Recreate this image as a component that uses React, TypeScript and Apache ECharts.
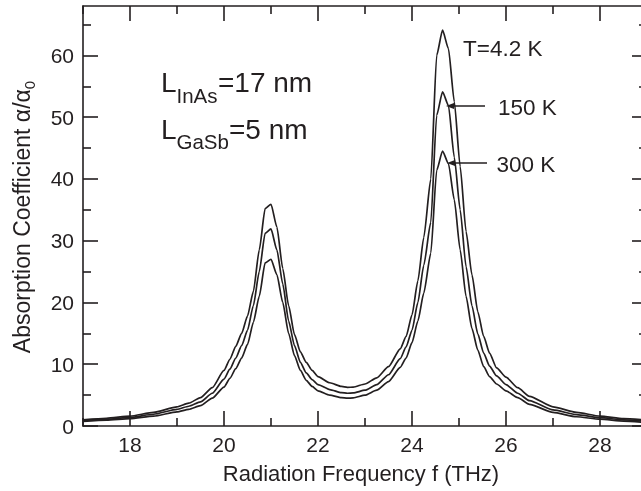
import React, { useEffect, useRef } from "react";
import * as echarts from "echarts";

// Radiation frequency (THz)
const freqTHz = [
  17.0, 17.5, 18.0, 18.5, 19.0, 19.25, 19.5, 19.75, 20.0, 20.125, 20.25, 20.375,
  20.5, 20.625, 20.75, 20.875, 21.0, 21.125, 21.25, 21.375, 21.5, 21.625, 21.75,
  21.875, 22.0, 22.25, 22.5, 22.625, 22.75, 23.0, 23.25, 23.5, 23.75, 23.875,
  24.0, 24.125, 24.25, 24.4, 24.525, 24.65, 24.775, 24.9, 25.025, 25.15, 25.275,
  25.4, 25.525, 25.65, 25.8, 26.0, 26.25, 26.5, 27.0, 27.5, 28.0, 28.5, 29.0,
];

// Absorption coefficient alpha/alpha0, T = 4.2 K
const alphaT4K = [
  1.0, 1.25, 1.6, 2.2, 3.1, 3.7, 4.6, 6.2, 9.0, 10.8, 12.9, 15.0,
  17.8, 21.8, 28.5, 35.2, 35.9, 32.2, 25.5, 19.5, 14.8, 12.0, 10.3,
  9.0, 8.0, 7.0, 6.4, 6.25, 6.3, 6.8, 7.8, 9.6, 12.5, 14.5,
  18.0, 23.5, 30.5, 40.0, 60.0, 64.1, 61.1, 52.5, 42.0, 31.5, 24.5,
  18.5, 14.5, 11.8, 9.4, 7.9, 6.2, 4.8, 3.1, 2.2, 1.6, 1.2, 0.95,
];

// T = 150 K
const alphaT150K = [
  0.88, 1.1, 1.4, 1.9, 2.7, 3.2, 3.9, 5.3, 7.6, 9.2, 11.0, 13.0,
  15.5, 19.5, 25.0, 31.2, 31.9, 28.5, 23.0, 17.0, 13.0, 10.3, 8.6,
  7.5, 6.7, 5.9, 5.4, 5.3, 5.35, 5.8, 6.7, 8.3, 10.9, 12.8,
  15.5, 20.0, 26.0, 33.0, 50.3, 54.1, 51.9, 43.5, 35.0, 25.8, 19.5,
  14.9, 11.8, 9.7, 8.1, 6.7, 5.3, 4.1, 2.6, 1.85, 1.35, 1.0, 0.75,
];

// T = 300 K
const alphaT300K = [
  0.75, 0.95, 1.2, 1.6, 2.3, 2.7, 3.3, 4.5, 6.3, 7.7, 9.3, 11.0,
  13.2, 16.8, 21.0, 26.4, 27.0, 24.5, 20.0, 15.0, 11.4, 9.0, 7.4,
  6.4, 5.7, 5.0, 4.6, 4.5, 4.55, 5.0, 5.8, 7.2, 9.5, 11.0,
  13.5, 17.0, 21.5, 28.0, 41.4, 44.5, 42.5, 36.6, 28.5, 21.0, 15.8,
  12.3, 9.6, 8.0, 6.8, 5.7, 4.6, 3.5, 2.2, 1.5, 1.1, 0.8, 0.55,
];

const xMajorTicks = [18, 20, 22, 24, 26, 28];
const xMinorTicks = [17, 19, 21, 23, 25, 27];
const yMajorTicks = [0, 10, 20, 30, 40, 50, 60];
const yMinorTicks = [5, 15, 25, 35, 45, 55, 65];

const seriesNames = ["T=4.2 K", "150 K", "300 K"];

export default function App() {
  const ref = useRef<HTMLDivElement>(null);

  useEffect(() => {
    const chart = echarts.init(ref.current!, null, { renderer: "svg" });
    const ink = "#231f20";
    const font = "'Liberation Sans', Arial, Helvetica, sans-serif";
    const lw = 1.6;

    const mkX = (pos: string, ticks: number[], len: number, labels: boolean, showLine: boolean) => ({
      type: "value",
      min: 17,
      max: 29,
      position: pos,
      axisLine: { show: showLine, onZero: false, lineStyle: { color: ink, width: lw } },
      axisTick: { show: true, inside: true, length: len, customValues: ticks, lineStyle: { color: ink, width: lw } },
      axisLabel: labels
        ? { show: true, customValues: ticks, margin: 8, color: ink, fontSize: 21, fontFamily: font }
        : { show: false },
      splitLine: { show: false },
    });
    const mkY = (pos: string, ticks: number[], len: number, labels: boolean, showLine: boolean) => ({
      type: "value",
      min: 0,
      max: 68,
      position: pos,
      axisLine: { show: showLine, onZero: false, lineStyle: { color: ink, width: lw } },
      axisTick: { show: true, inside: true, length: len, customValues: ticks, lineStyle: { color: ink, width: lw } },
      axisLabel: labels
        ? { show: true, customValues: ticks, margin: 9, color: ink, fontSize: 21, fontFamily: font }
        : { show: false },
      splitLine: { show: false },
    });

    const seriesData = [alphaT4K, alphaT150K, alphaT300K];

    const txt = (text: string, x: number, y: number, size: number, align = "left") => ({
      type: "text",
      x,
      y,
      silent: true,
      style: { text, fill: ink, fontSize: size, fontFamily: font, align, verticalAlign: "middle" },
    });

    chart.setOption({
      animation: false,
      grid: { left: 83, right: -6, top: 6, bottom: 65, outerBoundsMode: "none" },
      xAxis: [
        mkX("bottom", xMajorTicks, 15, true, true),
        mkX("bottom", xMinorTicks, 8, false, false),
        mkX("top", xMajorTicks, 15, false, true),
        mkX("top", xMinorTicks, 8, false, false),
      ],
      yAxis: [
        mkY("left", yMajorTicks, 15, true, true),
        mkY("left", yMinorTicks, 8, false, false),
        mkY("right", yMajorTicks, 15, false, true),
        mkY("right", yMinorTicks, 8, false, false),
      ],
      series: seriesData.map((vals, i) => ({
        name: seriesNames[i],
        type: "line",
        xAxisIndex: 0,
        yAxisIndex: 0,
        showSymbol: false,
        symbol: "none",
        silent: true,
        smooth: 0.2,
        smoothMonotone: "x",
        lineStyle: { color: ink, width: 1.7 },
        data: freqTHz.map((f, k) => [f, vals[k]]),
      })),
      graphic: [
        txt("Radiation Frequency f (THz)", 361, 473, 22, "center"),
        {
          type: "text",
          x: 22,
          y: 217,
          rotation: Math.PI / 2,
          silent: true,
          style: {
            text: "{m|Absorption Coefficient α/α}{s|0}",
            fill: ink,
            fontFamily: font,
            align: "center",
            verticalAlign: "middle",
            rich: {
              m: { fontSize: 23, lineHeight: 30, fontFamily: font, fill: ink, verticalAlign: "middle" },
              s: { fontSize: 15, lineHeight: 15, fontFamily: font, fill: ink, verticalAlign: "bottom" },
            },
          },
        },
        txt("L", 161, 82.7, 28),
        txt("InAs", 176.5, 95.8, 20.5),
        txt("=17 nm", 218, 82.7, 28),
        txt("L", 161, 129.7, 28),
        txt("GaSb", 176.5, 141, 20.5),
        txt("=5 nm", 229, 129.7, 28),
        txt(seriesNames[0], 463, 48, 22.5),
        txt(seriesNames[1], 498, 107.5, 22.5),
        txt(seriesNames[2], 496.5, 164.5, 22.5),
        { type: "line", silent: true, shape: { x1: 451, y1: 106, x2: 485, y2: 106 }, style: { stroke: ink, lineWidth: 1.3 } },
        { type: "polygon", silent: true, shape: { points: [[446, 106], [454, 103], [454, 109]] }, style: { fill: ink } },
        { type: "line", silent: true, shape: { x1: 452, y1: 163, x2: 487, y2: 163 }, style: { stroke: ink, lineWidth: 1.3 } },
        { type: "polygon", silent: true, shape: { points: [[447, 163], [455, 160], [455, 166]] }, style: { fill: ink } },
      ],
    });

    return () => chart.dispose();
  }, []);

  return <div ref={ref} style={{ position: "fixed", left: 0, top: 0, width: 641, height: 491 }} />;
}
